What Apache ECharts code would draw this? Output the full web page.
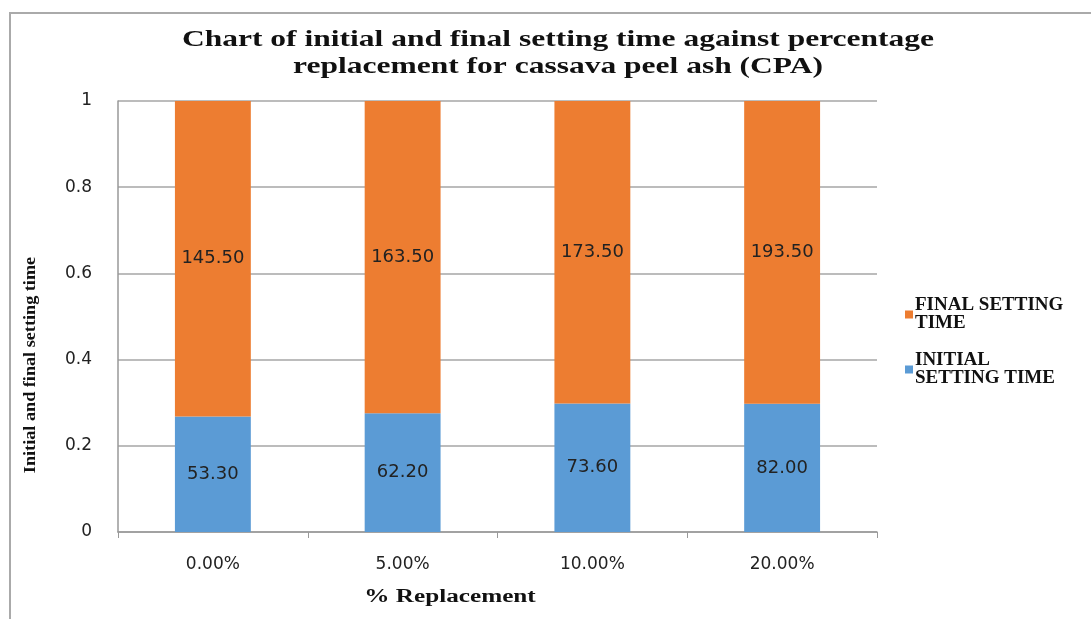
<!DOCTYPE html>
<html>
<head>
<meta charset="utf-8">
<script src="https://cdn.jsdelivr.net/npm/echarts@6/dist/echarts.min.js"></script>
<style>html,body{margin:0;padding:0;background:#fff;}#c{width:1091px;height:619px;}</style>
</head>
<body>
<div id="c"></div>
<script>
var categories = ['0.00%', '5.00%', '10.00%', '20.00%'];
var initialTime = [53.30, 62.20, 73.60, 82.00];
var finalTime = [145.50, 163.50, 173.50, 193.50];
var yTicks = [0, 0.2, 0.4, 0.6, 0.8, 1];

var initialShare = initialTime.map(function (v, i) { return v / (v + finalTime[i]); });
var finalShare = finalTime.map(function (v, i) { return v / (v + initialTime[i]); });

var chart = echarts.init(document.getElementById('c'));
var labelStyle = {
  show: true,
  position: 'inside',
  fontFamily: 'DejaVu Sans',
  fontSize: 18,
  color: '#222'
};
chart.setOption({
  animation: false,
  legend: {
    orient: 'vertical',
    left: 900,
    top: 291,
    itemWidth: 8,
    itemHeight: 8,
    itemGap: 18,
    icon: 'rect',
    data: ['FINAL SETTING TIME', 'INITIAL SETTING TIME'],
    formatter: function (n) {
      return n === 'FINAL SETTING TIME' ? 'FINAL SETTING\nTIME' : 'INITIAL\nSETTING TIME';
    },
    textStyle: {
      fontFamily: 'Liberation Serif',
      fontWeight: 'bold',
      fontSize: 19,
      lineHeight: 18,
      color: '#111',
      padding: [0, 0, 0, -3]
    }
  },
  grid: { left: 118, right: 214, top: 101, bottom: 87 },
  xAxis: {
    type: 'category',
    data: categories,
    axisLine: { lineStyle: { color: '#999', width: 1.5 } },
    axisTick: { show: true, length: 6, lineStyle: { color: '#999' } },
    axisLabel: {
      margin: 24,
      fontFamily: 'DejaVu Sans',
      fontSize: 17,
      color: '#222'
    }
  },
  yAxis: {
    type: 'value',
    min: 0,
    max: 1,
    interval: 0.2,
    axisLine: { show: true, lineStyle: { color: '#999', width: 1.5 } },
    axisTick: { show: false },
    splitLine: { lineStyle: { color: '#a6a6a6', width: 1.5 } },
    axisLabel: {
      margin: 26,
      fontFamily: 'DejaVu Sans',
      fontSize: 17,
      color: '#222',
      formatter: function (v) {
        for (var i = 0; i < yTicks.length; i++) {
          if (Math.abs(yTicks[i] - v) < 1e-9) return String(yTicks[i]);
        }
        return '';
      }
    }
  },
  series: [
    {
      name: 'INITIAL SETTING TIME',
      type: 'bar',
      stack: 'total',
      barWidth: '40%',
      itemStyle: { color: '#5B9BD5' },
      data: initialShare,
      label: Object.assign({}, labelStyle, {
        formatter: function (p) { return initialTime[p.dataIndex].toFixed(2); }
      })
    },
    {
      name: 'FINAL SETTING TIME',
      type: 'bar',
      stack: 'total',
      barWidth: '40%',
      itemStyle: { color: '#ED7D31' },
      data: finalShare,
      label: Object.assign({}, labelStyle, {
        formatter: function (p) { return finalTime[p.dataIndex].toFixed(2); }
      })
    }
  ],
  graphic: [
    {
      type: 'rect',
      shape: { x: 10, y: 13, width: 1200, height: 800 },
      style: { fill: 'none', stroke: '#aaa', lineWidth: 2 },
      silent: true
    },
    {
      type: 'text',
      x: 558,
      y: 54,
      scaleX: 1.37,
      style: {
        text: 'Chart of initial and final setting time against percentage\nreplacement for cassava peel ash (CPA)',
        fontFamily: 'Liberation Serif',
        fontWeight: 'bold',
        fontSize: 23,
        lineHeight: 27,
        fill: '#111',
        align: 'center',
        verticalAlign: 'middle'
      }
    },
    {
      type: 'text',
      x: 31,
      y: 365,
      rotation: Math.PI / 2,
      scaleX: 1.07,
      style: {
        text: 'Initial and final setting time',
        fontFamily: 'Liberation Serif',
        fontWeight: 'bold',
        fontSize: 17,
        fill: '#111',
        align: 'center',
        verticalAlign: 'middle'
      }
    },
    {
      type: 'text',
      x: 450,
      y: 597,
      scaleX: 1.4,
      style: {
        text: '% Replacement',
        fontFamily: 'Liberation Serif',
        fontWeight: 'bold',
        fontSize: 18,
        fill: '#111',
        align: 'center',
        verticalAlign: 'middle'
      }
    }
  ]
});
</script>
</body>
</html>
